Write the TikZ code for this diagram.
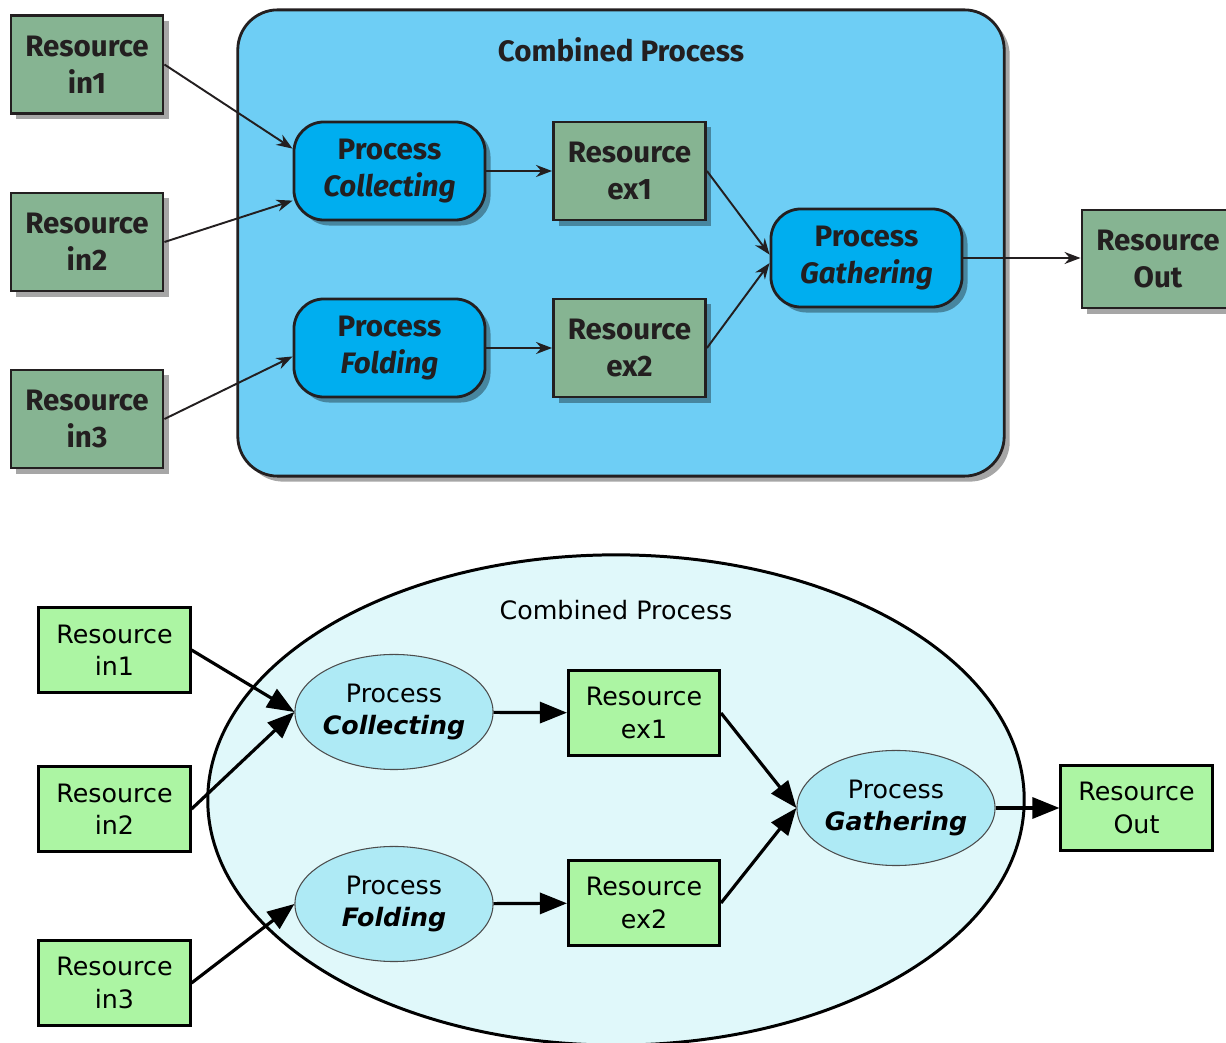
\documentclass[tikz,border=0pt]{standalone}
\usepackage{fontspec}
\setmainfont{DejaVu Sans}
\newfontfamily\topfont{Fira Sans}
\usetikzlibrary{arrows.meta,shapes.geometric,shadows}

\definecolor{resgreen}{RGB}{134,180,146}
\definecolor{boxblue}{RGB}{110,206,245}
\definecolor{procblue}{RGB}{0,174,239}
\definecolor{inkgrey}{RGB}{35,31,32}
\definecolor{lightgreen}{RGB}{172,245,163}
\definecolor{paleblue}{RGB}{224,248,250}
\definecolor{ellblue}{RGB}{174,234,245}

\begin{document}
\begin{tikzpicture}[x=0.01cm,y=-0.01cm,
  shad/.style={drop shadow={shadow xshift=0.55mm,shadow yshift=-0.55mm,opacity=0.35,fill=black}},
  topfnt/.style={font=\fontsize{8.4}{10.4}\selectfont\topfont\bfseries,text=inkgrey},
  res/.style={topfnt,shad,draw=inkgrey,line width=0.8pt,fill=resgreen,minimum width=1.52cm,minimum height=0.98cm,align=center,inner sep=0pt},
  proc/.style={topfnt,shad,draw=inkgrey,line width=0.8pt,fill=procblue,rounded corners=0.3cm,minimum width=1.91cm,minimum height=0.98cm,align=center,inner sep=0pt},
  arr/.style={draw=inkgrey,line width=0.55pt,-{Stealth[length=1.6mm,width=1.2mm]}},
  botfnt/.style={font=\fontsize{7.2}{9.2}\selectfont},
  bres/.style={botfnt,draw,line width=0.85pt,fill=lightgreen,minimum width=1.51cm,minimum height=0.84cm,align=center,inner sep=0pt},
  bproc/.style={botfnt,ellipse,draw=black!70,line width=0.3pt,fill=ellblue,minimum width=1.98cm,minimum height=1.15cm,align=center,inner xsep=-0.1cm,inner ysep=0pt},
  barr/.style={line width=0.9pt,-{Triangle[length=2.7mm,width=2.1mm]}}]
\useasboundingbox (0,0) rectangle (1226,1043);

\node[shad,draw=inkgrey,line width=0.8pt,fill=boxblue,rounded corners=0.4cm,minimum width=7.66cm,minimum height=4.66cm] (comb) at (621,243) {};
\node[topfnt] (comblbl) at (621,50) {Combined Process};
\node[res] (in1) at (87,64.5) {Resource\\in1};
\node[res] (in2) at (87,242) {Resource\\in2};
\node[res] (in3) at (87,419) {Resource\\in3};
\node[proc] (coll) at (389.5,171) {Process\\\itshape Collecting};
\node[proc] (fold) at (389.5,348) {Process\\\itshape Folding};
\node[res] (ex1) at (629.5,171) {Resource\\ex1};
\node[res] (ex2) at (629.5,348) {Resource\\ex2};
\node[proc] (gath) at (866.5,258) {Process\\\itshape Gathering};
\node[res] (out) at (1158,259) {Resource\\Out};
\draw[arr] (in1.east) -- (coll.167);
\draw[arr] (in2.east) -- (coll.197);
\draw[arr] (in3.east) -- (fold.185);
\draw[arr] (coll) -- (ex1);
\draw[arr] (fold) -- (ex2);
\draw[arr] (ex1.east) -- (gath.178);
\draw[arr] (ex2.east) -- (gath.183);
\draw[arr] (gath.east) -- (gath.east -| out.west);

\node[ellipse,draw,line width=0.85pt,fill=paleblue,minimum width=8.16cm,minimum height=4.9cm] (bcomb) at (616,800) {};
\node[botfnt] (bcomblbl) at (616,610) {Combined Process};
\node[bres] (bin1) at (114.5,650) {Resource\\in1};
\node[bres] (bin2) at (114.5,809) {Resource\\in2};
\node[bres] (bin3) at (114.5,983) {Resource\\in3};
\node[bproc] (bcoll) at (394,712) {Process\\\bfseries\itshape Collecting};
\node[bproc] (bfold) at (394,904) {Process\\\bfseries\itshape Folding};
\node[bres] (bex1) at (644,713) {Resource\\ex1};
\node[bres] (bex2) at (644,903) {Resource\\ex2};
\node[bproc] (bgath) at (896,808) {Process\\\bfseries\itshape Gathering};
\node[bres] (bout) at (1136.5,808) {Resource\\Out};
\draw[barr] (bin1.east) -- (bcoll.west);
\draw[barr] (bin2.east) -- (bcoll.west);
\draw[barr] (bin3.east) -- (bfold.west);
\draw[barr] (bcoll) -- (bex1);
\draw[barr] (bfold) -- (bex2);
\draw[barr] (bex1.east) -- (bgath.west);
\draw[barr] (bex2.east) -- (bgath.west);
\draw[barr] (bgath) -- (bout);
\end{tikzpicture}
\end{document}
